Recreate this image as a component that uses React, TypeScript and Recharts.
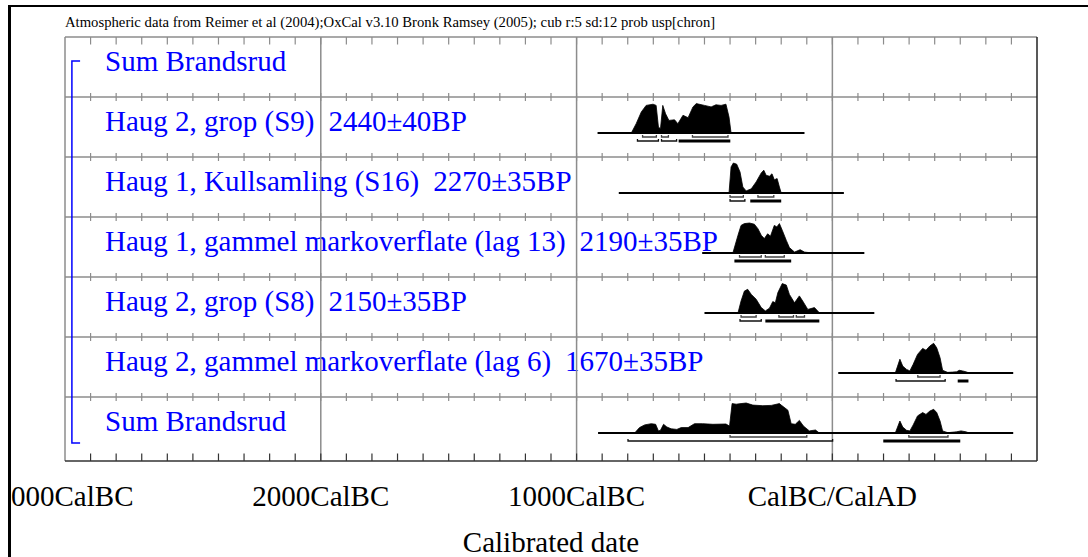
import React from "react";
import { ComposedChart, XAxis, YAxis, Area, Line, Scatter, ReferenceLine } from "recharts";

const FONT = '"Liberation Serif", "Times New Roman", serif';
const HEADER =
  "Atmospheric data from Reimer et al (2004);OxCal v3.10 Bronk Ramsey (2005); cub r:5 sd:12 prob usp[chron]";

// rows, top to bottom
const rowNames = [
  "Sum Brandsrud",
  "Haug 2, grop (S9)",
  "Haug 1, Kullsamling (S16)",
  "Haug 1, gammel markoverflate (lag 13)",
  "Haug 2, grop (S8)",
  "Haug 2, gammel markoverflate (lag 6)",
  "Sum Brandsrud",
];
const rowDates = ["", "2440±40BP", "2270±35BP", "2190±35BP", "2150±35BP", "1670±35BP", ""];

const axisYears = [-3000, -2000, -1000, 0];
const axisLabels = ["3000CalBC", "2000CalBC", "1000CalBC", "CalBC/CalAD"];
const minorYears = Array.from({ length: 37 }, (_, i) => -2900 + i * 100);

type Pt = [number, number];

// relative probability (peak ~100) by calendar year (negative = BC)
const probS9: Pt[] = [
  [-786, 0], [-767, 31], [-747, 70], [-728, 92], [-701, 96], [-689, 92], [-680, 20], [-672, 14],
  [-663, 92], [-652, 64], [-639, 42], [-617, 44], [-604, 31], [-584, 59], [-564, 51], [-545, 87],
  [-532, 98], [-500, 92], [-474, 87], [-455, 94], [-435, 92], [-416, 96], [-404, 53], [-396, 0],
];
const probS16: Pt[] = [
  [-404, 0], [-396, 87], [-387, 100], [-374, 96], [-361, 70], [-350, 20], [-337, 7], [-317, 14],
  [-298, 37], [-278, 67], [-268, 76], [-259, 59], [-246, 56], [-236, 64], [-227, 44], [-216, 48],
  [-207, 20], [-200, 0],
];
const probLag13: Pt[] = [
  [-389, 0], [-369, 59], [-357, 92], [-344, 98], [-324, 100], [-305, 96], [-291, 81], [-278, 59],
  [-266, 48], [-253, 64], [-242, 56], [-227, 92], [-217, 87], [-207, 98], [-196, 76], [-180, 42],
  [-168, 18], [-148, 3], [-126, 11], [-109, 3], [-77, 0],
];
const probS8: Pt[] = [
  [-369, 0], [-357, 40], [-344, 73], [-331, 79], [-317, 62], [-298, 46], [-278, 18], [-262, 7],
  [-246, 16], [-233, 38], [-223, 34], [-213, 68], [-196, 98], [-180, 93], [-168, 62], [-148, 34],
  [-129, 57], [-116, 40], [-96, 12], [-70, 18], [-51, 1], [-44, 0],
];
const probLag6: Pt[] = [
  [246, 0], [255, 23], [264, 46], [275, 23], [290, 12], [303, 7], [316, 29], [333, 62], [353, 82],
  [366, 76], [381, 90], [396, 99], [408, 84], [421, 51], [431, 9], [451, 2], [470, 3], [486, 4],
  [496, 9], [509, 7], [522, 4], [535, 0],
];
const probSum: Pt[] = [
  [-773, 0], [-754, 18], [-734, 27], [-708, 31], [-691, 29], [-680, 7], [-672, 9], [-660, 29],
  [-647, 20], [-630, 14], [-608, 12], [-591, 18], [-564, 18], [-539, 31], [-507, 31], [-467, 29],
  [-416, 30], [-402, 23], [-392, 98], [-376, 96], [-357, 98], [-337, 100], [-311, 93], [-272, 91],
  [-239, 92], [-207, 98], [-200, 93], [-174, 76], [-161, 31], [-145, 29], [-129, 42], [-113, 23],
  [-90, 7], [-66, 10], [-51, 0], [246, 0], [255, 20], [264, 40], [275, 20], [290, 9], [303, 7],
  [316, 27], [333, 57], [353, 68], [366, 62], [381, 73], [396, 79], [408, 68], [421, 40], [431, 7],
  [451, 1], [486, 4], [503, 7], [522, 4], [535, 0],
];

const rowProbs: (Pt[] | null)[] = [null, probS9, probS16, probLag13, probS8, probLag6, probSum];
const rowSpans: (Pt | null)[] = [null, [-918, -109], [-835, 45], [-509, 125], [-500, 164], [23, 707], [-916, 707]];

// 68.2% ranges
const ranges68: Pt[][] = [
  [],
  [[-742, -688], [-668, -641], [-547, -408]],
  [[-400, -348], [-291, -229]],
  [[-363, -278], [-262, -188]],
  [[-357, -298], [-209, -152], [-141, -109]],
  [[334, 421]],
  [[-400, -100], [299, 452]],
];
// 95.4% ranges: [from, to, solid]
const ranges95: [number, number, number][][] = [
  [],
  [[-762, -680, 0], [-668, -609, 0], [-601, -399, 1]],
  [[-400, -342, 0], [-321, -200, 1]],
  [[-383, -161, 1]],
  [[-361, -278, 0], [-262, -51, 1]],
  [[249, 441, 0], [490, 532, 1]],
  [[-799, 1, 0], [199, 500, 1]],
];

const ROW = 60;
const BASE = 36;
const SCALE = 0.3;
const BOTTOM = 424;
const GRID = "#8c8c8c";
const BLUE = "#0000ff";

const rowTops = rowNames.map((_, i) => i * ROW);
const topTicks = minorYears.map((year) => ({ year, y: 0 }));
const midTicks = rowTops.slice(1).flatMap((y) => minorYears.map((year) => ({ year, y })));
const bottomTicks = minorYears.map((year) => ({ year, y: BOTTOM }));
const groupBracket = [
  { year: -2941, y: 24 },
  { year: -2973, y: 24 },
  { year: -2973, y: 406 },
  { year: -2941, y: 406 },
];

const bracket = (a: number, b: number, y: number) => [
  { year: a, y: y - 2 },
  { year: a, y },
  { year: b, y },
  { year: b, y: y - 2 },
];

const tickShape = (up: number, down: number, color: string) => (p: any) =>
  <line x1={p.cx} x2={p.cx} y1={p.cy - up} y2={p.cy + down} stroke={color} strokeWidth={1.2} />;

export default function App() {
  return (
    <div style={{ position: "absolute", left: 0, top: 0, width: 1088, height: 557, background: "#fff" }}>
      <div
        style={{
          position: "absolute", left: 8, top: 5, width: 1080, height: 552, boxSizing: "border-box",
          borderLeft: "3px solid #000", borderTop: "2px solid #000", overflow: "hidden",
        }}
      >
        <div style={{ position: "absolute", left: -11, top: -7, width: 1088, height: 557 }}>
          <svg width={1088} height={40} style={{ position: "absolute", left: 0, top: 0 }}>
            <text x={65} y={27} fontFamily={FONT} fontSize={14.7} fill="#000">{HEADER}</text>
          </svg>
          <div style={{ position: "absolute", left: 0, top: 0 }}>
            <ComposedChart width={1088} height={557} margin={{ top: 37, right: 51, bottom: 36, left: 65 }}>
              <XAxis
                dataKey="year"
                type="number"
                domain={[-3000, 800]}
                allowDataOverflow
                ticks={axisYears}
                interval={0}
                height={60}
                tickSize={0}
                tickMargin={0}
                tickLine={false}
                axisLine={{ stroke: "#333", strokeWidth: 1.5 }}
                tick={(p: any) => (
                  <text x={p.x} y={p.y + 45} textAnchor="middle" fontFamily={FONT} fontSize={29} fill="#000">
                    {axisLabels[axisYears.indexOf(p.payload.value)]}
                  </text>
                )}
                label={{
                  content: (p: any) => (
                    <text
                      x={p.viewBox.x + p.viewBox.width / 2}
                      y={p.viewBox.y + 91}
                      textAnchor="middle"
                      fontFamily={FONT}
                      fontSize={29}
                      fill="#000"
                    >
                      Calibrated date
                    </text>
                  ),
                }}
              />
              <YAxis dataKey="y" type="number" domain={[0, BOTTOM]} reversed allowDataOverflow hide />

              {rowTops.map((y, i) => (
                <ReferenceLine
                  key={`row${i}`}
                  y={y}
                  stroke={GRID}
                  strokeWidth={1.5}
                  label={(p: any) => (
                    <text
                      x={p.viewBox.x + 40}
                      y={p.viewBox.y + 34}
                      fontFamily={FONT}
                      fontSize={29}
                      fill={BLUE}
                      style={{ whiteSpace: "pre" }}
                    >
                      {rowNames[i]}
                      {rowDates[i] ? <tspan dx={14}>{rowDates[i]}</tspan> : null}
                    </text>
                  )}
                />
              ))}
              {axisYears.map((x) => (
                <ReferenceLine key={`v${x}`} x={x} stroke={GRID} strokeWidth={1.5} />
              ))}
              <ReferenceLine x={800} stroke="#222" strokeWidth={1.5} />

              <Scatter data={topTicks} shape={tickShape(0, 7.5, GRID)} isAnimationActive={false} />
              <Scatter data={midTicks} shape={tickShape(4, 4, GRID)} isAnimationActive={false} />
              <Scatter data={bottomTicks} shape={tickShape(7.5, 0, "#333")} isAnimationActive={false} />

              <Line
                data={groupBracket}
                dataKey="y"
                stroke={BLUE}
                strokeWidth={1.5}
                dot={false}
                isAnimationActive={false}
              />

              {rowSpans.map((span, i) =>
                span ? (
                  <Line
                    key={`span${i}`}
                    data={[
                      { year: span[0], y: i * ROW + BASE },
                      { year: span[1], y: i * ROW + BASE },
                    ]}
                    dataKey="y"
                    stroke="#000"
                    strokeWidth={2}
                    dot={false}
                    isAnimationActive={false}
                  />
                ) : null
              )}

              {rowProbs.map((prob, i) =>
                prob ? (
                  <Area
                    key={`prob${i}`}
                    data={prob.map(([year, v]) => ({ year, top: i * ROW + BASE - v * SCALE }))}
                    dataKey="top"
                    baseValue={i * ROW + BASE}
                    type="linear"
                    stroke="#000"
                    strokeWidth={0.8}
                    fill="#000"
                    fillOpacity={1}
                    isAnimationActive={false}
                  />
                ) : null
              )}

              {ranges68.flatMap((list, i) =>
                list.map(([a, b], j) => (
                  <Line
                    key={`r68-${i}-${j}`}
                    data={bracket(a, b, i * ROW + BASE + 4)}
                    dataKey="y"
                    stroke="#444"
                    strokeWidth={1.3}
                    dot={false}
                    isAnimationActive={false}
                  />
                ))
              )}
              {ranges95.flatMap((list, i) =>
                list.map(([a, b, solid], j) =>
                  solid ? (
                    <Line
                      key={`r95-${i}-${j}`}
                      data={[
                        { year: a, y: i * ROW + BASE + 8 },
                        { year: b, y: i * ROW + BASE + 8 },
                      ]}
                      dataKey="y"
                      stroke="#000"
                      strokeWidth={3}
                      dot={false}
                      isAnimationActive={false}
                    />
                  ) : (
                    <Line
                      key={`r95-${i}-${j}`}
                      data={bracket(a, b, i * ROW + BASE + 8)}
                      dataKey="y"
                      stroke="#111"
                      strokeWidth={1.3}
                      dot={false}
                      isAnimationActive={false}
                    />
                  )
                )
              )}
            </ComposedChart>
          </div>
        </div>
      </div>
    </div>
  );
}
